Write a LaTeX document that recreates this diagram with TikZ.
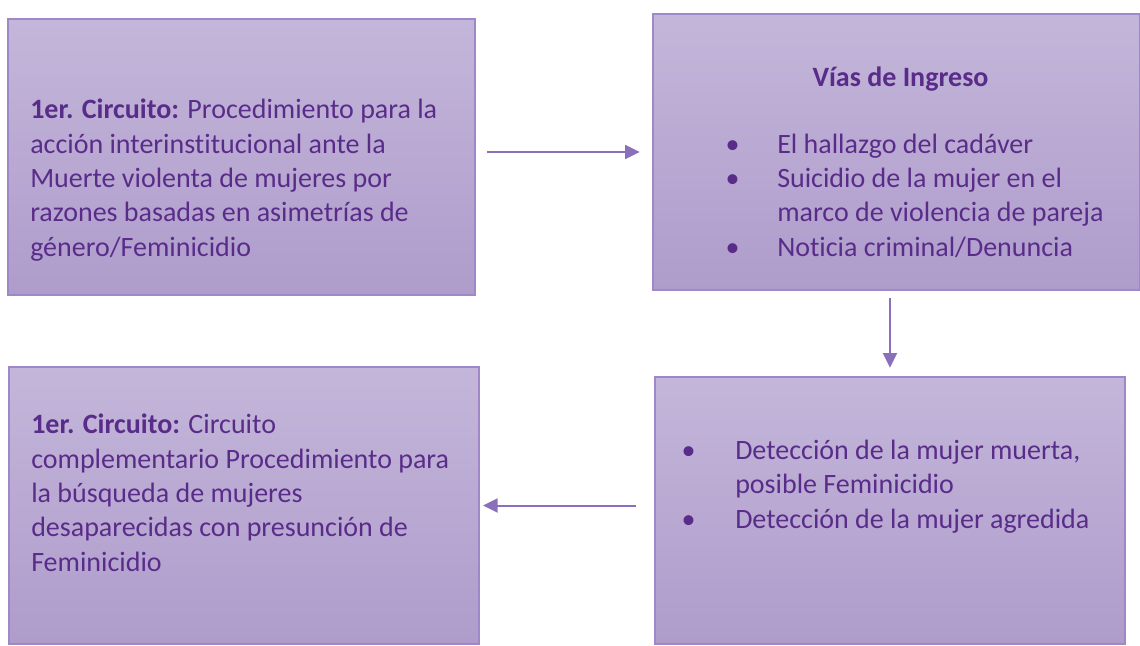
\documentclass[tikz,border=0pt]{standalone}
\usepackage{fontspec}
\setmainfont{Carlito}[Ligatures=NoCommon]
\usetikzlibrary{arrows.meta}
\definecolor{boxtop}{RGB}{196,182,218}
\definecolor{boxbot}{RGB}{174,156,203}
\definecolor{boxline}{RGB}{160,136,200}
\definecolor{txtc}{RGB}{90,44,138}
\definecolor{arrowc}{RGB}{138,112,186}
\tikzset{
  box/.style={draw=boxline, line width=1pt, top color=boxtop, bottom color=boxbot, inner sep=0pt, outer sep=0pt},
  body/.style={text=txtc, font=\fontsize{21}{25.7}\selectfont, align=left, inner sep=0pt, anchor=base west},
  title/.style={text=txtc, font=\fontsize{21}{25.7}\selectfont\bfseries, inner sep=0pt, anchor=base},
  arr/.style={draw=arrowc, line width=1.5pt, -{Triangle[length=11pt,width=10.5pt]}}
}
\newcommand{\bul}[1]{\makebox[#1][l]{\hspace*{-2pt}•}}
\begin{document}
\begin{tikzpicture}[x=0.75pt,y=-0.75pt]
\useasboundingbox (0,0) rectangle (1140,646);
% boxes
\node[box, minimum width=350.25pt, minimum height=207pt] (b1) at (241.5,157) {};
\node[box, minimum width=365.25pt, minimum height=207pt] (b2) at (896.5,152) {};
\node[box, minimum width=352.5pt, minimum height=207.75pt] (b3) at (244,505.5) {};
\node[box, minimum width=352.5pt, minimum height=200.25pt] (b4) at (890,510.5) {};
% texts (anchored at the baseline of the last line)
\node[body] (t1) at (30,256) {\textbf{1er. Circuito:} Procedimiento para la\\acción interinstitucional ante la\\Muerte violenta de mujeres por\\razones basadas en asimetrías de\\género/Feminicidio};
\node[title] (t2a) at (900.5,86) {Vías de Ingreso};
\node[body] (t2) at (728,256) {\bul{36.75pt}El hallazgo del cadáver\\\bul{36.75pt}Suicidio de la mujer en el\\\hspace*{36.75pt}marco de violencia de pareja\\\bul{36.75pt}Noticia criminal/Denuncia};
\node[body] (t3) at (31,571) {\textbf{1er. Circuito:} Circuito\\complementario Procedimiento para\\la búsqueda de mujeres\\desaparecidas con presunción de\\Feminicidio};
\node[body] (t4) at (684,528) {\bul{38.25pt}Detección de la mujer muerta,\\\hspace*{38.25pt}posible Feminicidio\\\bul{38.25pt}Detección de la mujer agredida};
% arrows
\draw[arr, shorten <=9pt, shorten >=10pt] (b1.east |- b2.west) -- (b2.west);
\draw[arr, shorten <=6pt, shorten >=7pt] (b4.north |- b2.south) -- (b4.north);
\draw[arr, shorten <=14pt, shorten >=3pt] (b4.west |- b3.east) -- (b3.east);
\end{tikzpicture}
\end{document}
